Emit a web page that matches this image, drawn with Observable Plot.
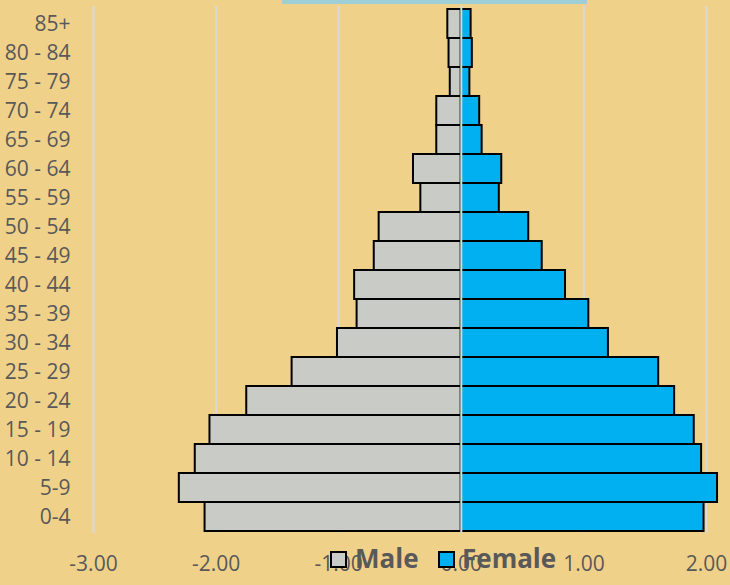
<!DOCTYPE html>
<html>
<head>
<meta charset="utf-8">
<script src="https://cdn.jsdelivr.net/npm/d3@7"></script>
<script src="https://cdn.jsdelivr.net/npm/@observablehq/plot@0.6"></script>
<style>
  html, body { margin: 0; padding: 0; background: #F0D18A; }
  #wrap { position: relative; width: 730px; height: 585px; font-family: "Open Sans", sans-serif; overflow: hidden; }
  #wrap svg { display: block; }
  .topband { position: absolute; left: 282px; top: 0; width: 305px; height: 4px; background: #9FCFD6; }
  .key { position: absolute; top: 551px; width: 17px; height: 17px; box-sizing: border-box; border: 2px solid #000; }
  .keytext { position: absolute; top: 540px; font-size: 26px; font-weight: 700; color: #595959; line-height: normal; white-space: nowrap; }
</style>
</head>
<body>
<div id="wrap">
  <div class="topband"></div>
</div>
<script>
// Age groups, oldest at the top
const ageGroups = ["85+", "80 - 84", "75 - 79", "70 - 74", "65 - 69", "60 - 64", "55 - 59", "50 - 54",
  "45 - 49", "40 - 44", "35 - 39", "30 - 34", "25 - 29", "20 - 24", "15 - 19", "10 - 14", "5-9", "0-4"];

// Share of population (%), males plotted to the left as negatives
const male = [-0.11, -0.10, -0.09, -0.20, -0.20, -0.39, -0.33, -0.67, -0.71, -0.87, -0.85, -1.01,
  -1.38, -1.75, -2.05, -2.17, -2.30, -2.09];
const female = [0.08, 0.09, 0.07, 0.15, 0.17, 0.33, 0.31, 0.55, 0.66, 0.85, 1.04, 1.20,
  1.61, 1.74, 1.90, 1.96, 2.09, 1.98];

const sexes = ["Male", "Female"];
const sexColors = ["#C9CCC6", "#00B0F0"];
const xTicks = [-3, -2, -1, 0, 1, 2];

const rows = [
  ...ageGroups.map((age, i) => ({age, sex: "Male", value: male[i]})),
  ...ageGroups.map((age, i) => ({age, sex: "Female", value: female[i]}))
];

const chart = Plot.plot({
  width: 730,
  height: 585,
  marginLeft: 93,
  marginRight: 24,
  marginTop: 6,
  marginBottom: 52,
  style: {fontFamily: "Open Sans, sans-serif", fontSize: "21px", color: "#595959", background: "transparent", overflow: "visible"},
  x: {domain: [-3, 2]},
  y: {domain: ageGroups, padding: 0},
  color: {domain: sexes, range: sexColors},
  marks: [
    Plot.gridX(xTicks, {stroke: "#D9D9D9", strokeOpacity: 1, strokeWidth: 2}),
    Plot.barX(rows, {x: "value", y: "age", fill: "sex", stroke: "#000", strokeWidth: 2}),
    Plot.ruleX([0], {stroke: "#D9D9D9", strokeWidth: 2}),
    Plot.axisX({ticks: xTicks, tickSize: 0, tickPadding: 23, tickFormat: d => d.toFixed(2), fill: "#595959", fontSize: 21, label: null}),
    Plot.axisY({tickSize: 0, tickPadding: 23, fill: "#595959", fontSize: 21, label: null})
  ]
});

const wrap = document.getElementById("wrap");
wrap.appendChild(chart);

// Legend drawn over the bottom of the chart
const legendItems = [
  {label: "Male", color: sexColors[0], key: 330, text: 355},
  {label: "Female", color: sexColors[1], key: 438, text: 462}
];
for (const item of legendItems) {
  const k = document.createElement("div");
  k.className = "key";
  k.style.left = item.key + "px";
  k.style.background = item.color;
  wrap.appendChild(k);
  const t = document.createElement("div");
  t.className = "keytext";
  t.style.left = item.text + "px";
  t.textContent = item.label;
  wrap.appendChild(t);
}
</script>
</body>
</html>
